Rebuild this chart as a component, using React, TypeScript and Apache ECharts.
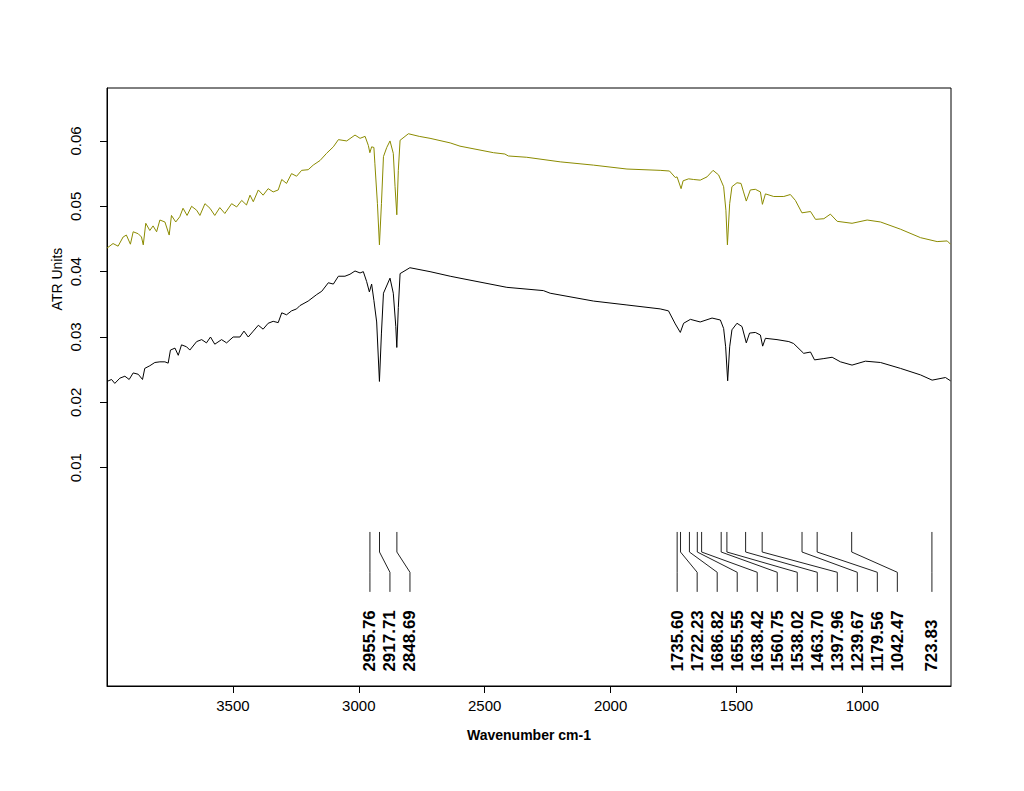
import React, { useEffect, useRef } from "react";
import * as echarts from "echarts";

const FONT = '"Liberation Sans", Arial, sans-serif';

const xTicks = [3500, 3000, 2500, 2000, 1500, 1000];
const yTicks = [0.01, 0.02, 0.03, 0.04, 0.05, 0.06];

const peaks = [
  2955.76, 2917.71, 2848.69, 1735.6, 1722.23, 1686.82, 1655.55, 1638.42,
  1560.75, 1538.02, 1463.7, 1397.96, 1239.67, 1179.56, 1042.47, 723.83,
];

// upper (olive) spectrum
const upperWn = [
  4000, 3976, 3956, 3936, 3923, 3907, 3896, 3876, 3863, 3856, 3846, 3830, 3817, 3803, 3790, 3770,
  3753, 3744, 3727, 3711, 3698, 3682, 3664, 3644, 3631, 3611, 3591, 3572, 3552, 3532, 3505, 3485,
  3465, 3446, 3432, 3419, 3399, 3380, 3360, 3340, 3320, 3306, 3287, 3267, 3247, 3227, 3201, 3181,
  3154, 3128, 3101, 3081, 3048, 3015, 2995, 2975, 2962, 2956, 2949, 2940, 2936, 2926, 2918, 2910,
  2902, 2889, 2876, 2863, 2856, 2849, 2843, 2836, 2803, 2760, 2717, 2637, 2598, 2465, 2420, 2406,
  2333, 2200, 2068, 1935, 1803, 1766, 1743, 1736, 1720, 1712, 1690, 1670, 1644, 1617, 1593, 1571,
  1551, 1542, 1536, 1527, 1518, 1498, 1482, 1472, 1461, 1445, 1425, 1405, 1397, 1385, 1352, 1312,
  1286, 1266, 1240, 1206, 1186, 1153, 1127, 1100, 1041, 981, 928, 849, 769, 703, 663, 650,
];
const upperAbs = [
  0.0436, 0.0443, 0.0439, 0.0453, 0.0456, 0.0442, 0.0461, 0.0458, 0.0453, 0.0441, 0.0474, 0.0463, 0.047, 0.0461, 0.0479, 0.0476,
  0.0456, 0.0486, 0.0476, 0.0484, 0.0497, 0.0486, 0.05, 0.0494, 0.0486, 0.0504, 0.0497, 0.0486, 0.0498, 0.0489, 0.0504, 0.0499,
  0.0509, 0.0502, 0.0517, 0.0507, 0.0525, 0.0517, 0.0527, 0.0522, 0.0525, 0.0541, 0.0535, 0.055, 0.0546, 0.0555, 0.0556, 0.0563,
  0.057, 0.0581, 0.0591, 0.0602, 0.06, 0.0609, 0.0604, 0.0607, 0.0593, 0.0582, 0.0591, 0.059, 0.0565, 0.0504, 0.0441, 0.0504,
  0.0576, 0.059, 0.06, 0.0581, 0.053, 0.0487, 0.0555, 0.0601, 0.0611, 0.0607, 0.0604, 0.0597, 0.0592, 0.0582, 0.058, 0.0577,
  0.0575, 0.0568, 0.0563, 0.0557, 0.0555, 0.0554, 0.0544, 0.0545, 0.0527, 0.0539, 0.0542, 0.0541, 0.054, 0.0545, 0.0555, 0.0548,
  0.053, 0.0494, 0.0441, 0.0504, 0.053, 0.0536, 0.0535, 0.0522, 0.0508, 0.0525, 0.0526, 0.0522, 0.0503, 0.0519, 0.0515, 0.0515,
  0.0518, 0.0509, 0.049, 0.0492, 0.048, 0.0481, 0.0488, 0.0477, 0.0474, 0.0479, 0.0476, 0.0465, 0.0452, 0.0446, 0.0447, 0.0442,
];

// lower (black) spectrum
const lowerWn = [
  4000, 3982, 3969, 3949, 3929, 3912, 3896, 3876, 3859, 3850, 3830, 3810, 3790, 3770, 3757, 3748,
  3730, 3717, 3704, 3684, 3671, 3644, 3624, 3605, 3589, 3572, 3545, 3525, 3499, 3472, 3456, 3439,
  3419, 3399, 3380, 3360, 3340, 3320, 3306, 3287, 3267, 3247, 3234, 3201, 3167, 3147, 3121, 3101,
  3081, 3055, 3035, 3015, 2995, 2982, 2969, 2958, 2949, 2940, 2929, 2918, 2910, 2902, 2876, 2863,
  2853, 2849, 2843, 2836, 2797, 2717, 2637, 2598, 2412, 2267, 2240, 2068, 1935, 1803, 1770, 1743,
  1723, 1710, 1683, 1644, 1597, 1564, 1551, 1543, 1535, 1527, 1518, 1498, 1478, 1461, 1448, 1425,
  1405, 1396, 1385, 1339, 1292, 1273, 1233, 1206, 1190, 1153, 1120, 1087, 1041, 988, 928, 849,
  769, 723, 670, 650,
];
const lowerAbs = [
  0.0232, 0.0235, 0.0229, 0.0237, 0.024, 0.0235, 0.0245, 0.0243, 0.0235, 0.0252, 0.0256, 0.0261, 0.0262, 0.0262, 0.026, 0.028,
  0.0283, 0.0272, 0.0288, 0.0285, 0.028, 0.0293, 0.0296, 0.0291, 0.03, 0.0289, 0.0296, 0.0291, 0.03, 0.03, 0.0309, 0.03,
  0.0309, 0.0318, 0.0312, 0.0321, 0.0324, 0.0322, 0.0337, 0.0334, 0.034, 0.0343, 0.0348, 0.0355, 0.0365, 0.037, 0.0383, 0.0381,
  0.0393, 0.0393, 0.0396, 0.0401, 0.0398, 0.04, 0.0385, 0.0369, 0.0381, 0.0356, 0.0323, 0.0232, 0.0306, 0.0367, 0.039, 0.0367,
  0.0316, 0.0284, 0.0345, 0.0397, 0.0406, 0.04, 0.0393, 0.039, 0.0376, 0.0371, 0.0367, 0.0355, 0.0349, 0.0343, 0.034, 0.032,
  0.0307, 0.0321, 0.0327, 0.0323, 0.0329, 0.0326, 0.0313, 0.0285, 0.0233, 0.0285, 0.0311, 0.0321, 0.0316, 0.0291, 0.0306, 0.0307,
  0.0303, 0.0286, 0.0298, 0.0296, 0.0293, 0.029, 0.0275, 0.0277, 0.0265, 0.0267, 0.0269, 0.0262, 0.0257, 0.0263, 0.0261, 0.0252,
  0.0242, 0.0234, 0.0238, 0.0233,
];

// minimum spacing between peak labels (in cm-1 along the axis)
const LABEL_GAP = 79.5;

function labelPositions(ps: number[]): number[] {
  const out: number[] = [];
  ps.forEach((p, i) => {
    out.push(i === 0 ? p : Math.min(p, out[i - 1] - LABEL_GAP));
  });
  return out;
}

export default function App() {
  const ref = useRef<HTMLDivElement>(null);
  useEffect(() => {
    if (!ref.current) return;
    const chart = echarts.init(ref.current, undefined, { renderer: "svg" });
    const labPos = labelPositions(peaks);
    const upper = upperWn.map((w, i) => [w, upperAbs[i]]);
    const lower = lowerWn.map((w, i) => [w, lowerAbs[i]]);
    const option: any = {
      animation: false,
      backgroundColor: "#fff",
      textStyle: { fontFamily: FONT },
      grid: {
        left: 107,
        top: 88,
        right: 73,
        bottom: 105,
        show: true,
        borderColor: "#000",
        borderWidth: 1,
        backgroundColor: "transparent",
      },
      xAxis: {
        type: "value",
        inverse: true,
        min: 648,
        max: 4000,
        name: "Wavenumber cm-1",
        nameLocation: "middle",
        nameGap: 42,
        nameTextStyle: { fontSize: 14, fontWeight: "bold", color: "#000", fontFamily: FONT },
        axisLine: { show: true, onZero: false, lineStyle: { color: "#000", width: 1 } },
        axisTick: { show: true, length: 7, customValues: xTicks, lineStyle: { color: "#000" } },
        axisLabel: {
          customValues: xTicks,
          margin: 12,
          fontSize: 15,
          color: "#000",
          fontFamily: FONT,
          formatter: (v: number) => String(Math.round(v)),
        },
        splitLine: { show: false },
      },
      yAxis: {
        type: "value",
        min: -0.0234,
        max: 0.0681,
        axisLine: { show: true, onZero: false, lineStyle: { color: "#000", width: 1 } },
        axisTick: { show: true, length: 7, customValues: yTicks, lineStyle: { color: "#000" } },
        axisLabel: {
          customValues: yTicks,
          rotate: 90,
          margin: 24,
          fontSize: 15,
          color: "#000",
          fontFamily: FONT,
          formatter: (v: number) => v.toFixed(2),
        },
        splitLine: { show: false },
      },
      graphic: [
        {
          type: "text",
          x: 57,
          y: 279,
          rotation: Math.PI / 2,
          style: {
            text: "ATR Units",
            textAlign: "center",
            textVerticalAlign: "middle",
            fontSize: 14,
            fontFamily: FONT,
            fill: "#000",
          },
        },
      ],
      series: [
        {
          type: "line",
          data: upper,
          showSymbol: false,
          symbol: "none",
          lineStyle: { color: "#8B8B00", width: 1 },
          itemStyle: { color: "#8B8B00" },
        },
        {
          type: "line",
          data: lower,
          showSymbol: false,
          symbol: "none",
          lineStyle: { color: "#000", width: 1 },
          itemStyle: { color: "#000" },
        },
        {
          type: "custom",
          data: peaks.map((p, i) => [p, labPos[i]]),
          encode: { x: 0, y: 1 },
          clip: false,
          renderItem: (params: any, api: any) => {
            const peak = api.value(0);
            const lab = api.value(1);
            const xp = api.coord([peak, 0])[0];
            const xl = api.coord([lab, 0])[0];
            const yA = api.coord([peak, 0.00017])[1];
            const yB = api.coord([peak, -0.0029])[1];
            const yC = api.coord([peak, -0.006])[1];
            const yD = api.coord([peak, -0.009])[1];
            const yT = api.coord([peak, -0.0212])[1];
            return {
              type: "group",
              children: [
                {
                  type: "polyline",
                  shape: { points: [[xp, yA], [xp, yB], [xl, yC], [xl, yD]] },
                  style: { stroke: "#222", lineWidth: 1, fill: null },
                },
                {
                  type: "text",
                  x: xl,
                  y: yT,
                  rotation: Math.PI / 2,
                  style: {
                    text: peak.toFixed(2),
                    textAlign: "left",
                    textVerticalAlign: "middle",
                    verticalAlign: "middle",
                    fontSize: 17,
                    fontWeight: "bold",
                    fontFamily: FONT,
                    fill: "#000",
                  },
                },
              ],
            };
          },
        },
      ],
    };
    chart.setOption(option);
    return () => chart.dispose();
  }, []);
  return (
    <div
      ref={ref}
      style={{ position: "absolute", left: 0, top: 0, width: 1024, height: 791, background: "#fff" }}
    />
  );
}
